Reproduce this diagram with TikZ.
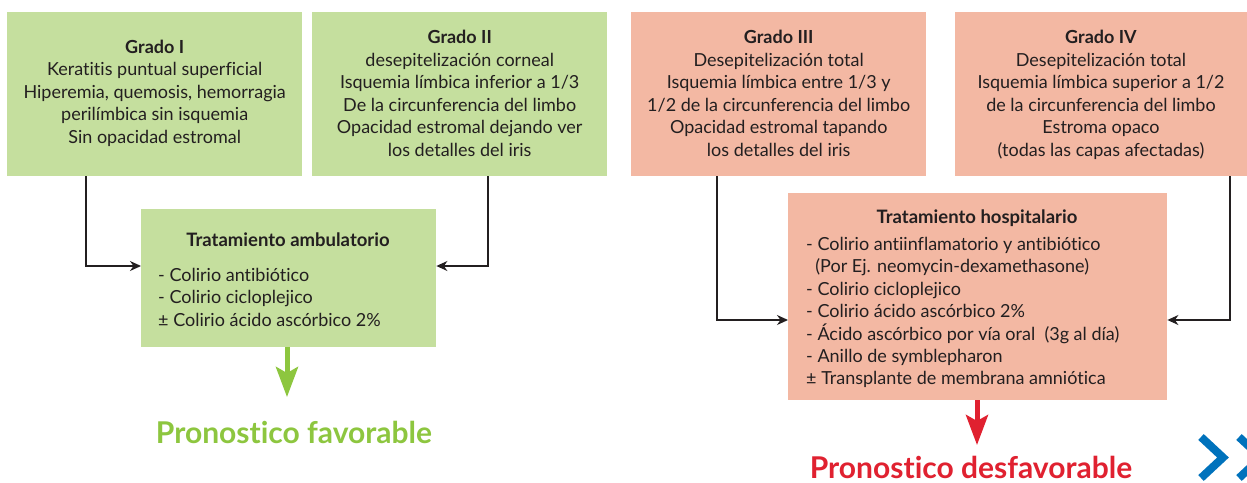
\documentclass[tikz,border=0pt]{standalone}
\usepackage{fontspec}
\setmainfont{Lato}[Ligatures={NoCommon,TeX}]
\usetikzlibrary{arrows.meta}
\definecolor{gfill}{HTML}{C5DF9E}
\definecolor{rfill}{HTML}{F3B8A3}
\definecolor{gtext}{HTML}{8DC63F}
\definecolor{rtext}{HTML}{E02130}
\definecolor{dtext}{HTML}{231F20}
\definecolor{chev}{HTML}{0072BC}
\tikzset{
  box/.style={draw=none, inner sep=0pt, anchor=north west},
  gbox/.style={box, fill=gfill},
  rbox/.style={box, fill=rfill},
  boxtext/.style={text=dtext, align=center, font=\fontsize{18}{22.5}\selectfont},
  listtext/.style={text=dtext, align=left, font=\fontsize{18}{22.4}\selectfont, inner sep=0pt},
  titletext/.style={text=dtext, font=\bfseries\fontsize{18.5}{22.5}\selectfont, inner sep=0pt},
  conn/.style={draw=dtext, line width=1.3pt, -{Stealth[length=11pt,width=10pt,inset=3.5pt]}},
  garrow/.style={draw=gtext, line width=5pt, -{Stealth[length=30pt,width=22pt,inset=6pt]}},
  rarrow/.style={draw=rtext, line width=5pt, -{Stealth[length=30pt,width=22pt,inset=6pt]}},
  progn/.style={font=\bfseries\fontsize{30}{34}\selectfont, inner sep=0pt},
}
\begin{document}
\begin{tikzpicture}[x=1pt,y=-1pt]
\clip (0,0) rectangle (1247,482);
\fill[white] (0,0) rectangle (1247,482);
% Grade boxes
\node[gbox, minimum width=295pt, minimum height=164pt] (g1) at (7,12) {};
\node[gbox, minimum width=295pt, minimum height=164pt] (g2) at (312,12) {};
\node[rbox, minimum width=295pt, minimum height=164pt] (g3) at (631,12) {};
\node[rbox, minimum width=300pt, minimum height=164pt] (g4) at (955,12) {};
\node[boxtext] (t1) at ([yshift=1pt]g1.center) {\textbf{Grado I}\\Keratitis puntual superficial\\Hiperemia, quemosis, hemorragia\\perilímbica sin isquemia\\Sin opacidad estromal};
\node[boxtext] (t2) at ([yshift=1pt]g2.center) {\textbf{Grado II}\\desepitelización corneal\\Isquemia límbica inferior a 1/3\\De la circunferencia del limbo\\Opacidad estromal dejando ver\\los detalles del iris};
\node[boxtext] (t3) at ([yshift=1pt]g3.center) {\textbf{Grado III}\\Desepitelización total\\Isquemia límbica entre 1/3 y\\1/2 de la circunferencia del limbo\\Opacidad estromal tapando\\los detalles del iris};
\node[boxtext] (t4) at (1101,95) {\textbf{Grado IV}\\Desepitelización total\\Isquemia límbica superior a 1/2\\de la circunferencia del limbo\\Estroma opaco\\(todas las capas afectadas)};
% Treatment boxes
\node[gbox, minimum width=295pt, minimum height=138pt] (amb) at (141,209) {};
\node[titletext, anchor=base] (ambt) at (288,246) {Tratamiento ambulatorio};
\node[listtext, anchor=north west] (ambl) at (158,268) {- Colirio antibiótico\\- Colirio cicloplejico\\± Colirio ácido ascórbico 2\%};
\node[rbox, minimum width=379pt, minimum height=207pt] (hos) at (788,193) {};
\node[titletext, anchor=base] (host) at (977,223) {Tratamiento hospitalario};
\node[listtext, anchor=north west] (hosl) at (806,237) {- Colirio antiinflamatorio y antibiótico\\\ \ (Por Ej. neomycin-dexamethasone)\\- Colirio cicloplejico\\- Colirio ácido ascórbico 2\%\\- Ácido ascórbico por vía oral\ \ (3g al día)\\- Anillo de symblepharon\\± Transplante de membrana amniótica};
% Connectors
\draw[conn] (g1.south -| 86,0) |- (amb.west |- 0,266);
\draw[conn] (g2.south -| 488,0) |- (amb.east |- 0,266);
\draw[conn] (g3.south -| 717,0) |- (hos.west |- 0,320);
\draw[conn] (g4.south -| 1230,0) |- (hos.east |- 0,320);
% Prognosis
\coordinate (ga) at (287,397);
\coordinate (ra) at (977,445);
\draw[garrow] (amb.south -| ga) -- (ga);
\draw[rarrow] (hos.south -| ra) -- (ra);
\node[progn, text=gtext, anchor=base] (pf) at (294,443) {Pronostico favorable};
\node[progn, text=rtext, anchor=base] (pd) at (971,478) {Pronostico desfavorable};
% Chevrons
\draw[chev, line width=8pt, miter limit=10] (1201,437) -- (1223,457.5) -- (1201,478);
\draw[chev, line width=8pt, miter limit=10] (1239,437) -- (1261,457.5) -- (1239,478);
\end{tikzpicture}
\end{document}
